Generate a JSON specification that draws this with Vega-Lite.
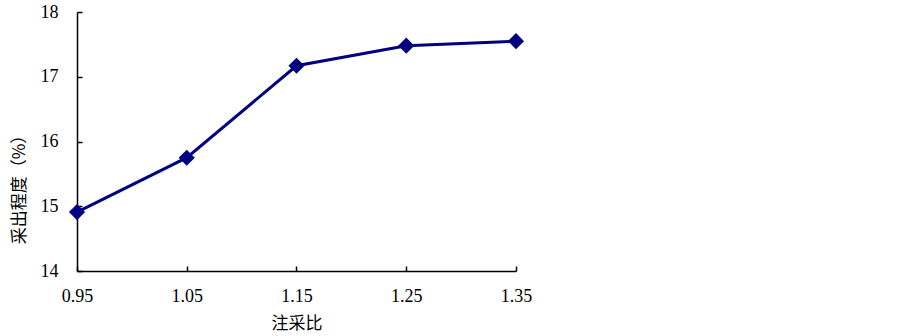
{
  "$schema": "https://vega.github.io/schema/vega-lite/v6.json",
  "autosize": "none",
  "width": 439,
  "height": 259,
  "padding": {"left": 77, "top": 12, "right": 387, "bottom": 65},
  "background": "white",
  "config": {"view": {"stroke": null}},
  "data": {"values": [
    {"ratio": 0.95, "recovery": 14.91},
    {"ratio": 1.05, "recovery": 15.75},
    {"ratio": 1.15, "recovery": 17.17},
    {"ratio": 1.25, "recovery": 17.48},
    {"ratio": 1.35, "recovery": 17.55}
  ]},
  "encoding": {
    "x": {"field": "ratio", "type": "quantitative", "title": "注采比",
      "scale": {"domain": [0.95, 1.35], "nice": false, "zero": false},
      "axis": {"values": [0.95, 1.05, 1.15, 1.25, 1.35], "format": ".2f", "grid": false, "labelFlush": false, "labelOverlap": false,
        "domainColor": "black", "domainWidth": 1.5, "tickColor": "black", "tickWidth": 1.5, "tickSize": -5,
        "labelFont": "Liberation Serif", "labelFontSize": 18, "labelColor": "black", "labelPadding": 21,
        "titleFont": "Noto Sans CJK SC", "titleFontSize": 17, "titleFontWeight": "normal", "titleColor": "black", "titlePadding": 10}},
    "y": {"field": "recovery", "type": "quantitative", "title": "采出程度（%）",
      "scale": {"domain": [14, 18], "nice": false, "zero": false},
      "axis": {"values": [14, 15, 16, 17, 18], "grid": false, "labelFlush": false, "labelOverlap": false,
        "domainColor": "black", "domainWidth": 1.5, "tickColor": "black", "tickWidth": 1.5, "tickSize": -5,
        "labelFont": "Liberation Serif", "labelFontSize": 18, "labelColor": "black", "labelPadding": 24,
        "titleFont": "Noto Sans CJK SC", "titleFontSize": 17, "titleFontWeight": "normal", "titleColor": "black", "titleY": 173, "titlePadding": 12}}
  },
  "layer": [
    {"mark": {"type": "line", "color": "#000080", "strokeWidth": 3}},
    {"mark": {"type": "point", "shape": "diamond", "filled": true, "color": "#000080", "opacity": 1, "size": 260}}
  ]
}
